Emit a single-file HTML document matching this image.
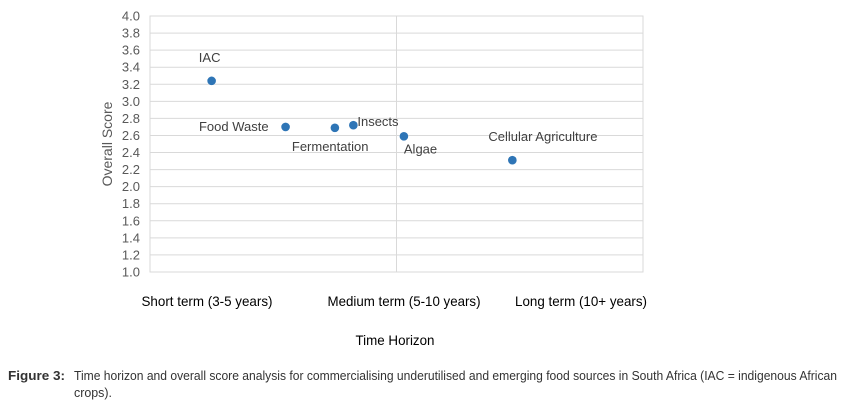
<!DOCTYPE html>
<html><head><meta charset="utf-8"><style>
html,body{margin:0;padding:0;background:#fff;}
svg{display:block;font-family:"Liberation Sans",Arial,sans-serif;}
</style></head><body>
<svg id="chart" width="848" height="408" viewBox="0 0 848 408"></svg>
<script>
const names=["IAC","Food Waste","Fermentation","Insects","Algae","Cellular Agriculture"];
const xVals=[0.25,0.55,0.75,0.825,1.03,1.47];
const yVals=[3.24,2.70,2.69,2.72,2.59,2.31];
const yTicks=[1.0,1.2,1.4,1.6,1.8,2.0,2.2,2.4,2.6,2.8,3.0,3.2,3.4,3.6,3.8,4.0];
const categories=["Short term (3-5 years)","Medium term (5-10 years)","Long term (10+ years)"];

const svg=document.getElementById('chart');
const NS="http://www.w3.org/2000/svg";
const L=150,R=643,T=16,B=272;
const xs=v=>L+(v/2)*(R-L);
const ys=v=>B-(v-1)/3*(B-T);
function mk(tag,attrs,parent){const e=document.createElementNS(NS,tag);for(const k in attrs)e.setAttribute(k,attrs[k]);(parent||svg).appendChild(e);return e;}

yTicks.forEach(t=>{
  const g=mk('line',{x1:L,x2:R,y1:ys(t),y2:ys(t),stroke:'#d9d9d9','stroke-width':1});
  
  
  const tx=mk('text',{x:L-10,y:ys(t)+4.5,'text-anchor':'end','font-size':13,fill:'#595959'});
  tx.textContent=t.toFixed(1);
  
  
});
const vg=mk('line',{x1:xs(1),x2:xs(1),y1:T,y2:B,stroke:'#d9d9d9','stroke-width':1});


const fr=mk('rect',{x:L,y:T,width:R-L,height:B-T,fill:'none',stroke:'#d9d9d9','stroke-width':1});



const yt=mk('text',{x:0,y:0,transform:'translate(112,144) rotate(-90)','text-anchor':'middle','font-size':14,fill:'#595959'});
yt.textContent='Overall Score';



const lblOff=[[-2,-19,'middle'],[-17,4,'end'],[-43,23,'start'],[4,1,'start'],[0,17,'start'],[-24,-19,'start']];
names.forEach((n,i)=>{
  const c=mk('circle',{cx:xs(xVals[i]),cy:ys(yVals[i]),r:4.3,fill:'#2e75b6'});
  
  
  const o=lblOff[i];
  const t=mk('text',{x:xs(xVals[i])+o[0],y:ys(yVals[i])+o[1],'text-anchor':o[2],'font-size':13,fill:'#404040'});
  t.textContent=n;
  
  
});

const catX=[207,404,581],catW=[131,153,132];
categories.forEach((c,i)=>{
  const t=mk('text',{x:catX[i],y:306,'text-anchor':'middle','font-size':14,fill:'#000',textLength:catW[i],lengthAdjust:'spacingAndGlyphs'});
  t.textContent=c;
  
  
});
const xt=mk('text',{x:395,y:345,'text-anchor':'middle','font-size':14,fill:'#000',textLength:79,lengthAdjust:'spacingAndGlyphs'});
xt.textContent='Time Horizon';



const f=mk('text',{x:8,y:380,'font-size':13,'font-weight':'bold',fill:'#333',textLength:57,lengthAdjust:'spacingAndGlyphs'});
f.textContent='Figure 3:';


const c1=mk('text',{x:74,y:380,'font-size':13,fill:'#333',textLength:763,lengthAdjust:'spacingAndGlyphs'});
c1.textContent='Time horizon and overall score analysis for commercialising underutilised and emerging food sources in South Africa (IAC = indigenous African';


const c2=mk('text',{x:74,y:397,'font-size':13,fill:'#333',textLength:38,lengthAdjust:'spacingAndGlyphs'});
c2.textContent='crops).';


</script>
</body></html>
